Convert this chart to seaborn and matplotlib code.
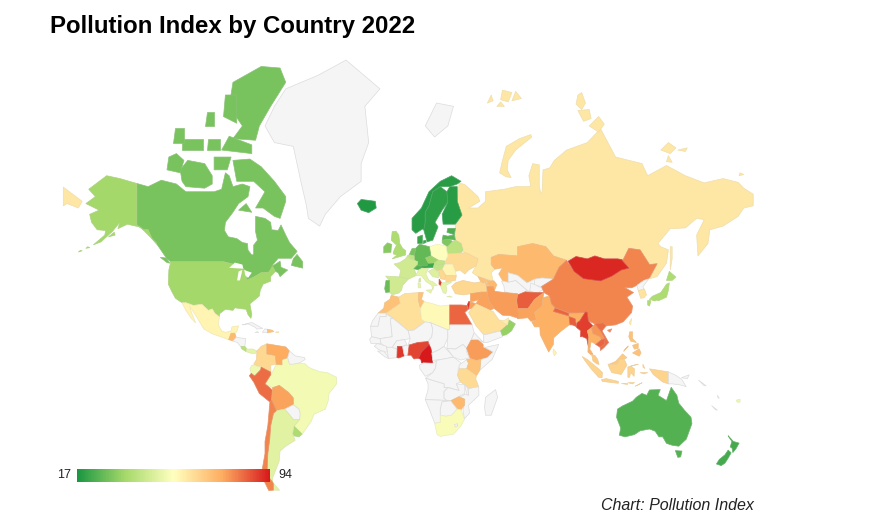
import numpy as np
import pandas as pd
import seaborn as sns
import matplotlib.pyplot as plt

# outlines are rough lon/lat rings, one list per country
canada = [[(-141,69.6),(-135,69),(-128,70.2),(-120,69.5),(-115,68),(-108,68),(-100,68),(-96,68.5),(-94,71.5),(-92,71),(-90,69),(-85,69.5),(-81,69),(-82,67),(-87,65.5),(-90,63.5),(-94,61),(-94.5,58.8),(-92.5,57),(-88,56.5),(-85,55.3),(-82.3,55),(-82,52.9),(-80,51.3),(-79,51.5),(-79,54.5),(-77,56),(-78,58.5),(-78,62.5),(-73,62),(-70,61),(-69.5,59),(-66,58.8),(-64.5,60.3),(-62,57.5),(-60,55.3),(-56,52.5),(-59,50.2),(-66,50.2),(-70,47),(-65,49.2),(-64.5,47),(-61,46),(-65,43.5),(-66,45),(-67.5,45.5),(-69,47.3),(-71,45.2),(-75,45),(-79,43.3),(-83,42),(-82.5,45),(-84.5,46.5),(-89,48),(-95,49),(-123,49),(-125,50),(-130,54.5),(-133,56.5),(-135,59),(-137.5,59),(-141,60.3)],
          [(-62,66),(-65,62),(-68,62.5),(-74,64.5),(-78,64.5),(-73,68),(-79,70),(-88,70),(-90,73.5),(-81,73.7),(-75,72.5),(-68,70),(-62,67)],
          [(-117,70),(-115,69),(-105,68.7),(-101,69.5),(-101,71),(-105,73),(-114,73.5),(-118,72)],
          [(-125,72),(-118,71.5),(-116,73.5),(-120,74.5),(-124,74)],
          [(-90,76.5),(-78,76.3),(-76,78),(-70,80),(-62,82),(-65,83),(-75,83.1),(-90,82),(-92,80),(-85,78)],
          [(-96,75),(-80,74.5),(-80,75.7),(-92,76.8)],
          [(-95,79),(-88,78.3),(-88,81),(-94,81)],
          [(-117,75),(-106,75),(-106,76.5),(-117,76.5)],
          [(-104,75),(-97,75),(-97,76.5),(-103,76.5)],
          [(-100,72),(-93,72),(-91,74),(-100,74)],
          [(-105,78),(-100,78),(-100,79.5),(-104,79.5)],
          [(-122,76),(-116,76),(-116,77.8),(-121,77.8)],
          [(-87,64),(-80,63.5),(-83,65.5)],
          [(-59,47.7),(-53,46.7),(-53,49),(-56,51.5),(-58,50)],
          [(-128.5,50.5),(-125,48.7),(-123.5,48.5),(-125.5,50.3)]]
usa = [[(-123,49),(-95,49),(-89,48),(-84.5,46.5),(-82.5,45),(-83,42),(-79,43.3),(-75,45),(-71,45.2),(-69,47.3),(-67.5,45.5),(-70,43.5),(-70,41.7),(-74,40.5),(-75.5,38),(-76,35.5),(-81,32),(-80,27),(-80.5,25.2),(-82,27),(-83,29.5),(-85,29.7),(-89,30.2),(-90,29),(-94,29.5),(-97,27.5),(-97.2,26),(-99.5,27.5),(-101,29.7),(-103,29),(-106.5,31.8),(-111,31.3),(-114.8,32.5),(-117,32.5),(-120.5,34.5),(-122.5,37.5),(-124.3,40.5),(-124,46)],
       [(-141,69.6),(-141,60.3),(-137.5,59),(-135,59),(-133,56.5),(-130.5,55),(-134,57),(-139,59.7),(-146,60.5),(-151,59.3),(-150,61),(-154,58.5),(-160,55.5),(-164,54.6),(-158,57.5),(-157.5,58.8),(-162,59),(-165,61),(-166,63),(-161,64),(-168,65.5),(-163,67),(-166.5,68.5),(-157,71),(-150,70.5)],
       [(-168,53.5),(-166,53.7),(-167,54)],[(-172,52.3),(-170,52.7),(-171,52.8)],[(-156,57),(-152.5,57.5),(-153,58.3)]]
greenland = [[(-73,78),(-68,76),(-58,75.5),(-54,70),(-51,65),(-50,62),(-44,60),(-41,63),(-33,67),(-22,70),(-22,73),(-18,76),(-20,80),(-12,81.5),(-30,83.5),(-45,82.5),(-62,81.5),(-68,80)]]
svalbard = [[(12,78),(17,76.7),(24,78),(27,80),(18,80.3)]]
russia = [[(28,60),(28,56),(31,53),(35,51),(40,50),(39,47.5),(37,45),(40,43.5),(48,41.8),(47,45),(49,46.3),(47,48),(47,50.5),(51,51.5),(61,51),(61,54),(69,55),(76,54),(80,51),(87,49.5),(92,50.8),(98,50),(102,51),(107,50),(114,50),(117,49.7),(120,53.5),(126,53),(131,48),(135,48.3),(133,45),(131,42.7),(135,43.5),(140,48.5),(141,53),(137,54),(135.5,55),(142,59.3),(150,59.5),(156,62),(160,61.7),(156,57.5),(156.7,51),(162,55),(163,59),(170,60),(178,62.5),(181,64.5),(186,65),(186,67.5),(181,68.7),(178,69.8),(170,70.5),(160,69.7),(150,71),(140,72.7),(130,71),(127,73),(113,74),(105,77.7),(98,76),(87,75),(80.5,73.5),(78,72.3),(74.5,72),(74,68),(73.5,67.5),(72.5,69),(72.5,72.8),(69,73),(67,71),(68,69),(60,69),(54,68.5),(44,68),(44,66),(40,64.5),(35,64.5),(41,66),(40,67),(33,69.4),(30,69.7),(29,66),(30,62)],
          [(-180,68.9),(-175,67.5),(-170,66),(-172,64.5),(-178,65.5),(-180,65)],
          [(51.5,71.5),(55,70.8),(57.5,70.7),(55.5,72),(56,73.5),(60,75),(68.5,76.7),(68,77),(62,76.5),(55,75.5),(53,73.5)],
          [(45,80.3),(48,80.5),(47,81)],[(52,80.6),(56,80.4),(58,81.2),(53,81.4)],[(58,80.5),(63,80.7),(60,81.3)],[(50,80),(54,80),(52,80.4)],
          [(92,80.2),(95,79.7),(97,80.3),(95,81.2),(93,81)],[(93,79.6),(99,79.7),(100,78.8),(96,78.5)],[(99,78),(104,79),(107,78.2),(104,77.3)],
          [(137,75),(142,74.5),(145,75.3),(141,76)],[(146,75),(150,74.8),(151,75.3)],[(140,73.3),(143,73.2),(141,74.2)],
          [(178.5,71),(181,71.2),(179,71.5)],
          [(142,46),(143,50),(143,54),(142,54),(142,48)]]
iceland = [[(-24,65.5),(-22,64),(-18,63.4),(-14,64.5),(-14.5,66),(-18,66.2),(-22,66.4)]]
norway = [[(5,59),(7,58),(10.5,59.2),(11.5,59),(12,61),(12,63.5),(14,65),(16,68),(20,69),(25,69),(29,69.5),(31,70),(26,71),(20,70),(14,68),(10,64.5),(5,62)]]
sweden = [[(11.2,59),(13,55.5),(16,56),(18.8,59.8),(17.2,61),(21,64),(24,65.8),(23.5,68),(20,69),(16,68),(14,65),(12,63.5),(12,61)]]
finland = [[(21.5,60.5),(28,60.5),(31.5,62.8),(29,66),(29,69),(25,69),(23.5,68),(24,65.8),(21,63)]]
denmark = [[(8,55),(8,57),(10.5,57.5),(10.5,55)],[(11,55),(12.5,55.3),(12.3,56),(11,55.8)]]
estonia = [[(23.5,58.3),(24,59.4),(28,59.4),(27.5,57.6)]]
latvia = [[(21,56),(21.5,57.5),(24,57.2),(27.5,57.6),(28,56),(25,56.3)]]
lithuania = [[(21,56),(25,56.3),(26.5,55.5),(24,54),(23,54.2),(21,55.2)]]
belarus = [[(23.5,52),(23,54.2),(24,54),(26.5,55.5),(28,56),(31,55),(32,53),(31,52),(24,51.7)]]
ukraine = [[(24,51.7),(31,52),(34,52),(40,50),(39,47.5),(35,46),(33,44.5),(30.5,46),(28,45.5),(26.5,48.2),(22.5,48.2)]]
poland = [[(14.2,54),(18.5,54.8),(23,54.2),(24,51),(22.5,49.2),(19,49.4),(15,51)]]
germany = [[(6.1,51),(7,53.5),(9,54.8),(14.2,54),(15,51),(12.2,50.3),(13.7,48.5),(13,47.5),(7.6,47.6),(8,49),(6.2,49.5)]]
netherlands = [[(3.5,51.4),(6.1,51),(7,53.5),(5,53.4)]]
belgium = [[(2.6,51),(3.5,51.4),(6.1,51),(6.2,49.5),(4,50)]]
france = [[(2.6,51),(4,50),(6.2,49.5),(8,49),(7.6,47.6),(6,46.5),(7.5,44),(3,42.5),(-1.7,43.4),(-1,46),(-4.5,48.2),(-1.5,48.7),(1.5,50)],[(8.6,41.5),(9.5,41.5),(9.4,43),(8.7,42.5)]]
switzerland = [[(6,46.5),(7.6,47.6),(9.5,47.5),(10.4,46.7),(8.5,46)]]
austria = [[(9.5,47.5),(13,47.5),(13.7,48.5),(17,48.6),(16.3,46.9),(10.4,46.7)]]
czechia = [[(12.2,50.3),(15,51),(18.8,49.6),(17,48.6),(13.7,48.5)]]
slovakia = [[(17,48.6),(18.8,49.6),(22.5,49.2),(22.2,48.2),(18.8,47.9)]]
hungary = [[(16.3,46.9),(17,48.6),(18.8,47.9),(22.2,48.2),(21,46.2),(18,45.8)]]
italy = [[(7,44),(8.5,46),(10.4,46.7),(13.7,46.5),(12.3,44.5),(14,42),(16,41.5),(18.4,40),(16.7,40),(16,38),(15.5,40),(12.5,41.5),(10,43.8)],
         [(12.5,38),(15.5,38.2),(15,36.7)],[(8.3,39),(9.7,39),(9.3,41),(8.2,41)]]
spain = [[(-9,43.7),(-1.7,43.4),(3,42.5),(0,40),(-0.5,38),(-2,36.8),(-5.5,36),(-7,37.2),(-7,42)]]
portugal = [[(-9,37),(-7,37.2),(-7,42),(-8.8,42),(-9.5,38.7)]]
uk = [[(-5.5,50),(1.5,51.3),(1.7,52.7),(0,53.5),(-1.5,55),(-2,57.5),(-3.5,58.6),(-5.5,58.5),(-6,56),(-3.2,54.5),(-4.5,53),(-5,51.7),(-3,51.3)]]
ireland = [[(-10,52),(-6.2,52.2),(-6,53.8),(-5.7,54.7),(-8,55.2),(-10,54)]]
romania = [[(22.5,48),(26.5,48.2),(28,45.5),(28.5,43.8),(22.8,44),(21,46.2)]]
bulgaria = [[(22.8,44),(28.5,43.8),(28,42),(23,41.3)]]
serbia = [[(19,46),(21,46.2),(22.8,44),(22.5,42.3),(20,42.7)]]
croatia = [[(13.7,45.5),(16.3,46.5),(18,45.8),(19.3,45),(19,43),(16,43.5)]]
albania = [[(19.4,42.5),(20.7,41),(20.2,39.8),(19.3,40.5)]]
greece = [[(20.2,39.6),(20.7,41),(26,41.3),(23,40),(23.5,38),(22.8,36.5),(21.5,37)],[(23.5,35.2),(26.3,35),(25,35.5)]]
turkey = [[(26,39.5),(28,41),(32,42),(38,41),(42,41.5),(44.5,39.7),(44.7,37.2),(36.5,36.5),(32,36),(28,36.5)]]
georgia = [[(40,43.5),(46.5,41.8),(43,41),(41.5,41.5)]]
azerbaijan = [[(45,41.2),(46.5,41.8),(48.5,41.8),(50,40.3),(49,38.4),(46,39)]]
armenia = [[(43.5,41),(45,41),(46.5,39),(44.8,39.7)]]
kazakhstan = [[(47,48),(49,46.3),(53,46.8),(51,44.5),(53,42),(56,41.3),(56,45),(61,44),(66,41),(70,42.5),(74,43),(80,42.5),(83,47),(87,49.5),(80,51),(76,54),(69,55),(61,54),(61,51),(51,51.5),(47,50.5)]]
turkmenistan = [[(52.5,41.7),(56,41.3),(60,42),(66,38),(62,35.3),(54,37.4),(53.8,39.5)]]
uzbekistan = [[(56,41.3),(56,45),(61,44),(66,41),(70,42.5),(71,40.5),(67,37.5),(66,38),(60,42)]]
kyrgyzstan = [[(70,42.5),(74,43),(80,42.5),(73.5,39.5),(70,40)]]
tajikistan = [[(67.5,37.5),(68,41),(71,40),(74.9,38.4),(71.5,36.8)]]
afghanistan = [[(60.5,33.5),(61,36),(65,37.3),(71.5,37),(74.9,37),(70,34),(66.5,29.8),(61,29.8)]]
pakistan = [[(61,25),(66.5,25.5),(68,23.8),(71,24.5),(70,28),(74,31),(74.5,34.8),(74.9,37),(70,34),(66.5,29.8),(61,29.8)]]
iran = [[(44.7,39.5),(48,39.5),(49,37.5),(54,37),(61,36.5),(60.5,33.5),(61,29.8),(61.5,25.2),(57,26.5),(53,26.7),(48.5,30),(46,33),(45,36)]]
iraq = [[(39,32),(42,37.2),(44.7,37.2),(45,36),(46,33),(48.5,30),(46.5,29)]]
syria = [[(36,33),(36,36.5),(42,37.2),(41,34.4),(38.8,33.4)]]
jordan = [[(35,29.5),(36,33),(39,32),(37,30)]]
saudi = [[(35,28),(37,30),(39,32),(46.5,29),(48,28.5),(51,24.6),(55.7,22),(52,19),(45,17.3),(43,17),(39,21.5)]]
yemen = [[(43,13),(43,17),(45,17.3),(52,19),(53,16),(45,13)]]
oman = [[(52,19),(55.7,22),(56.3,24.5),(59.8,22.5),(57.8,19),(55,17),(53,16.6)]]
uae = [[(51.5,24.3),(55.7,22),(56.3,25.5),(54,24.2)]]
israel = [[(34.3,31.3),(35,29.7),(35.6,33),(35,33)]]
india = [[(68.5,23.5),(71,24.5),(70,28),(74,31),(74.5,34.8),(78,35.5),(79,32),(81,30.2),(80,28.5),(88,26.3),(88.2,27.8),(92,27.8),(97,28.3),(94,24),(92.5,23),(91.5,24.5),(89,25),(88.5,22),(87,21),(84,18.8),(80.2,15.5),(80,12),(77.5,8),(76,11),(73,17),(72.8,21),(70,21)]]
nepal = [[(81,30.2),(88.2,27.8),(88,26.4),(80,28.5)]]
bangladesh = [[(88.3,26),(91.5,25),(92.5,21),(90,22),(88.8,22)]]
srilanka = [[(80,9.6),(81.7,7.5),(80.5,6),(79.8,8)]]
china = [[(73.7,39.5),(80,42.5),(83,47),(87,49.5),(91,45.5),(96,42.7),(105,41.8),(111,43.7),(116,46),(120,46.7),(116,49.8),(117,49.7),(120,53.5),(126,53),(131,48),(135,48.3),(131,43),(128,42),(124.3,40),(121.5,39),(118,39),(122.5,37),(119,35),(122,31),(121.5,28),(117,23.5),(113,22),(108,21.5),(106.5,23),(102,22.5),(98.5,24),(98,28),(92,27.8),(88.2,27.8),(81,30.2),(79,32),(78,35.5),(75,37)],[(108.7,19.3),(111,20),(110,18.3)]]
mongolia = [[(87.8,49.2),(92,50.8),(98,50),(102,51),(107,50),(114,50),(116,49.8),(120,46.7),(116,46),(111,43.7),(105,41.8),(96,42.7),(91,45.5)]]
nkorea = [[(124.3,40),(128,42),(130.5,42.5),(127.5,39.5),(128,38.3),(125,37.8)]]
skorea = [[(125,37.8),(128.3,38.5),(129.4,36),(128,34.7),(126.3,34.5)]]
japan = [[(130.9,34),(136,33.5),(140,35),(141,38),(141.5,41),(140,40.5),(137,37),(132.5,35.4)],[(140,42),(141.5,45.5),(145,43.3),(143,42)],[(130,33.5),(131.8,33.5),(131,31),(130,31.5)],[(132.5,33.5),(134.5,34.2),(134,33.3)]]
myanmar = [[(92.3,20.7),(92.5,23),(94,24),(97,28.3),(98,28),(98.5,24),(101,21.5),(98,19),(98.8,16),(98.7,10),(97.7,15),(95.5,16),(94.3,16),(94.5,19)]]
thailand = [[(98,19),(100.3,20.4),(101,17.6),(104.8,16),(105.5,14.5),(102.5,12),(101,13),(100,13.4),(99.3,9.5),(101,6.8),(100,6.5),(98.3,8),(98.8,16)]]
laos = [[(100.3,20.4),(102,22.5),(105,19),(107.5,15),(105.5,14.5),(104.8,16),(101,17.6)]]
vietnam = [[(102,22.5),(106.5,23),(108,21.5),(105.8,19),(109.3,13),(106.8,10.3),(105,8.8),(104.8,10.5),(107,12),(107.5,15),(105,19)]]
cambodia = [[(102.5,12),(105.5,14.5),(107.5,15),(107,12),(104.8,10.5)]]
malaysia = [[(100.3,6.5),(102,6.2),(103.5,4),(104.2,1.4),(103,1.7),(101,3.3)],[(109.7,1.5),(113,3),(116.7,7),(119,5),(117.5,4.2),(115,4),(114,1.5)]]
indonesia = [[(95.3,5.6),(98,4),(104,-1),(106,-3),(105.8,-5.8),(104,-5.5),(100,-1),(97,3)],[(105.5,-6.8),(108,-6.2),(114.5,-7.7),(114.4,-8.7),(106,-7.7)],
             [(109,1.5),(114,1.5),(115,4),(117.5,4.2),(119,1),(116,-4),(111,-3),(109.7,-0.5)],[(119.5,-5.5),(119.5,0),(125,1.5),(121,0.5),(123,-1),(122.8,-5),(121,-3),(120.4,-5.5)],
             [(131,-1),(141,-2.6),(141,-9),(138,-8),(133,-4)],[(116,-8.4),(119,-8.4),(119,-9)],[(119.5,-8.4),(123,-8.3),(122,-9)],[(123.5,-10.2),(127,-8.4),(125,-9.5)],[(127.5,1.5),(128.5,-0.8),(127.5,0)],[(126,-3),(130,-3),(128,-3.7)]]
png = [[(141,-2.6),(145,-4.5),(148,-6.5),(150.5,-10.5),(147,-9.5),(143,-9),(141,-9)],[(148,-5.7),(152,-4.2),(151,-6.3)]]
philippines = [[(120.5,18.5),(122,18.5),(122,15),(124,13),(121,13.7),(120,16)],[(122,7.5),(125.5,9.7),(126.5,7.5),(125.5,5.8),(124,6.5)],[(122,11.5),(125,12.5),(125,10),(123,9.5)],[(117.3,8.4),(119.5,10.8),(119.7,11.2),(118,9.5)]]
taiwan = [[(120.2,23),(121.5,25.2),(121,22)]]
australia = [[(114,-22),(116.5,-20.5),(122,-18),(124,-16),(127,-14),(129.5,-15),(131,-12.2),(136.7,-12),(135.5,-15),(140,-17.7),(141.7,-13),(142.5,-10.8),(145.5,-15),(146.5,-19),(149.5,-22.5),(153,-26),(153.5,-29),(150.5,-36),(146.5,-39),(143,-38.6),(140,-37.8),(138,-35),(136,-35),(134,-32.5),(131,-31.5),(126,-32.3),(123,-34),(118,-35),(115,-34.3),(115.7,-31),(113.5,-26)],
             [(144.7,-40.8),(148.2,-41),(147.5,-43.3),(146,-43.5)]]
newzealand = [[(172.7,-34.5),(175.5,-37),(178.5,-37.7),(176.9,-40),(175.2,-41.6),(174.8,-39.8),(173.8,-39.3),(174.7,-37),(173,-35)],[(172.7,-40.6),(174.3,-41.7),(172.7,-43.8),(171,-45.7),(169,-46.6),(166.5,-46),(168,-44.3),(171,-42.5)]]
fiji = [[(177,-17.5),(179,-17),(179,-18.5),(177.5,-18.5)]]
caledonia = [[(164,-20.3),(167,-22.5),(166,-22.3)],[(157,-7),(161,-10),(160,-10)],[(167,-15),(168,-16.5),(167.3,-16.3)]]
morocco = [[(-6,35.8),(-2,35),(-1.2,32.2),(-5,30),(-8.7,27.7),(-13,27.7),(-10,30),(-9.5,32.5),(-6.8,34)]]
wsahara = [[(-13,27.7),(-8.7,27.7),(-8.7,26),(-12,26),(-13,21.3),(-17,21.3),(-16,24)]]
algeria = [[(-2,35),(1,36.5),(8.6,37),(8.3,34),(9.5,30),(10,24.8),(12,23.5),(6,19.4),(3,19),(-4.8,25),(-8.7,27.7),(-5,30),(-1.2,32.2)]]
tunisia = [[(8.6,37),(11,37),(10,34),(11.5,33),(9.5,30),(8.3,34)]]
libya = [[(11.5,33),(15,32.3),(20,31),(25,31.5),(25,20),(24,19.5),(15,23),(12,23.5),(10,24.8),(9.5,30)]]
egypt = [[(25,31.5),(31,31.5),(34.3,31.3),(34.8,29.5),(33,28),(36.8,22),(25,22)]]
mauritania = [[(-17,21.3),(-13,21.3),(-12,26),(-8.7,26),(-8.7,27.3),(-4.8,25),(-6.5,25),(-5.5,16),(-12,15),(-16.5,16)]]
mali = [[(-12,15),(-5.5,16),(-6.5,25),(-4.8,25),(3,19),(4,15),(1,14.5),(-3,14),(-5.5,10.5),(-8.5,10.5),(-11.5,12.5)]]
niger = [[(3,11.8),(4,15),(3,19),(6,19.4),(12,23.5),(15,23),(16,20),(15.5,16),(13.5,13.5),(8,13),(3.5,11.7)]]
chad = [[(15,23),(24,19.5),(24,15.5),(22,11),(19,9),(15.5,7.5),(14,12.8),(13.5,13.5),(15.5,16),(16,20)]]
sudan = [[(25,22),(36.8,22),(38,18),(36.5,14.5),(34,10),(32,12),(28,9.5),(23.5,10),(24,15.5),(24,19.5),(25,20)]]
senegal = [[(-17.5,14.7),(-16.5,16),(-12,15),(-11.5,12.5),(-16.7,12.4)]]
guinea = [[(-15,11),(-13.5,12.5),(-8.5,11),(-8,8),(-10,8),(-13,9.5)]]
liberia = [[(-13.3,8.5),(-10,8.5),(-8,6),(-7.5,4.5),(-9.5,5.5)]]
ivorycoast = [[(-8.5,10.5),(-5.5,10.5),(-2.8,9.5),(-3,5),(-7.5,4.5),(-8,7.8)]]
burkina = [[(-5.5,10.5),(-3,14),(1,14.5),(2.3,12),(0,11),(-2.8,9.5)]]
ghana = [[(-2.8,11),(0,11),(0.5,8),(1,6),(-2,4.8),(-3,5)]]
benin = [[(0,11),(3.5,11.7),(2.8,6.3),(1,6),(0.5,8)]]
nigeria = [[(2.8,6.3),(3.5,11.7),(8,13),(13.5,13.5),(14,12),(10,8),(8.5,4.7),(6,4.3),(4.5,6.3)]]
cameroon = [[(8.5,4.7),(10,8),(14,12),(15,10),(15.5,7.5),(16,2),(10,2.2),(9.7,4)]]
car = [[(15.5,7.5),(19,9),(22,11),(27,5.3),(22,4.3),(16,3.5)]]
gabon = [[(9,1),(11,2.2),(16,2),(18,3.5),(17.5,-0.5),(16,-3),(12,-5),(9.2,-1)]]
drc = [[(12.2,-6),(16,-3),(17.5,-0.5),(18,3.5),(22,4.3),(27,5.3),(31,2.2),(29.5,-1),(29.2,-4.5),(30.7,-8),(28.5,-9),(30,-12.5),(28,-12),(25,-11),(22,-11),(22,-9),(17,-7.5)]]
ssudan = [[(23.5,10),(28,9.5),(32,12),(34,10),(34,8),(35.5,5),(31,3.7),(27,5.3)]]
uganda = [[(30,-1),(30,1),(34,4),(35,2),(34,-1)]]
ethiopia = [[(36.5,14.5),(40,14.5),(42.7,12),(42.8,10.8),(48,8),(45,5),(41.5,4),(39,3.5),(36,4.5),(35,7),(34,10)]]
eritrea = [[(36.5,14.5),(38,18),(43,13),(40,14.5)]]
somalia = [[(41,-1.7),(41.5,4),(45,5),(48,8),(42.8,10.8),(44,10.5),(51,12),(47.5,4),(44,1)]]
kenya = [[(34,-1),(35,2),(34,4),(36,4.5),(39,3.5),(41.5,4),(41,-1.7),(39.2,-4.7)]]
tanzania = [[(30,-1),(34,-1),(39.2,-4.7),(38.8,-6.5),(40.4,-10.5),(35,-11.5),(33,-9.5),(30.7,-8),(29.2,-4.5)]]
angola = [[(12.2,-6),(17,-7.5),(22,-9),(22,-11),(24,-11),(22,-13),(22,-16.5),(23.4,-17.6),(12,-17.2),(13.5,-12),(13.5,-9)]]
zambia = [[(22,-13),(24,-11),(28,-12),(30,-12.5),(28.5,-9),(33,-9.5),(33,-14),(30,-15.5),(25.5,-17.8),(23.4,-17.6),(22,-16.5)]]
malawi = [[(33,-9.5),(34.5,-11),(35,-15),(34,-14.5)]]
mozambique = [[(35,-11.5),(40.4,-10.5),(40.5,-15),(35,-20),(35.5,-24),(32.8,-26.7),(32,-22.5),(33,-19),(30.4,-16),(33,-14.5),(35,-15)]]
zimbabwe = [[(25.5,-17.8),(30,-15.7),(33,-17),(32.8,-20),(31,-22.3),(29,-22),(26,-19)]]
namibia = [[(12,-17.2),(23.4,-17.6),(25,-17.8),(21,-18.3),(20,-22),(20,-28.5),(17,-28.8),(14.5,-22.8)]]
botswana = [[(21,-18.3),(25.5,-17.8),(29,-22),(26,-25),(23,-25.5),(20,-25),(20,-22)]]
southafrica = [[(17,-28.8),(20,-28.5),(20,-25),(23,-25.5),(26,-25),(29,-22),(31,-22.3),(32,-25),(32.8,-27),(31,-30),(27,-33.8),(20,-34.8),(18.3,-34)]]
lesotho = [[(27.5,-29.5),(29,-29),(29.3,-30),(28,-30.6)]]
madagascar = [[(44,-16),(49.3,-12),(50.4,-16),(47,-25),(44,-25),(43.5,-21)]]
mexico = [[(-117,32.5),(-114.8,32.5),(-111,31.3),(-106.5,31.8),(-103,29),(-101,29.7),(-99.5,27.5),(-97.2,26),(-97.8,22),(-96,19),(-94,18.2),(-91,19),(-90.5,21),(-87,21.5),(-88,18.5),(-89,17.8),(-91,17),(-92.3,14.5),(-96,15.8),(-101,17.5),(-105.5,20),(-109,25.5),(-113,31),(-112,28),(-109.8,23),(-112,25),(-115,29)]]
guatemala = [[(-92.3,14.5),(-91,17.8),(-89,17.8),(-88.3,15.7),(-90,13.8)]]
honduras = [[(-90,13.8),(-88.3,15.7),(-83.2,15),(-83.7,11),(-86,11),(-87.7,13)]]
costarica = [[(-85.8,10.9),(-83.7,11),(-82.6,9.5),(-83,8.2),(-85.5,9.8)]]
panama = [[(-83,8.2),(-82.6,9.5),(-79.5,9.6),(-77.3,8.5),(-78,7.3),(-80.5,7.3)]]
cuba = [[(-85,22),(-80,23.2),(-74.2,20.2),(-77.5,19.9),(-78,20.7),(-82,22.5)],[(-78.3,18.2),(-76.3,18.2),(-77,18.6)],[(-74.4,18.3),(-73,20),(-71.7,19.8),(-71.7,18)]]
dominican = [[(-71.7,19.8),(-69,19.3),(-68.4,18.6),(-71.7,18)]]
puertorico = [[(-67.2,18),(-65.7,18.2),(-65.7,18.5),(-67.2,18.5)]]
colombia = [[(-77.3,8.5),(-75,11),(-72,12.3),(-72,7),(-67.5,6.2),(-67,1.5),(-70,1),(-69.8,-4.2),(-74,-1),(-79,1.5),(-77.5,4)]]
venezuela = [[(-72,12.3),(-70,12),(-62,10.7),(-60,8.5),(-61,5),(-64,4),(-64,1.2),(-67,1.5),(-67.5,6.2),(-72,7)]]
guianas = [[(-60,8.5),(-57,6),(-52,5),(-51.7,4),(-54.5,2.3),(-58,1.5),(-60,1.5),(-61,5)]]
ecuador = [[(-80,1),(-75.3,0),(-75.3,-1.5),(-78.5,-4.8),(-80.3,-3.4),(-81,-1)]]
peru = [[(-81.3,-4.7),(-80.3,-3.4),(-78.5,-4.8),(-75.3,-1.5),(-75,-0.1),(-70,-2.7),(-70,-4.2),(-73,-9),(-70.5,-11),(-69,-12.5),(-69.5,-17.5),(-70.4,-18.4),(-76,-14),(-79,-8)]]
bolivia = [[(-69,-11),(-65.4,-9.8),(-60.5,-13.5),(-58,-16.3),(-58,-19.8),(-62.5,-22),(-67,-22.8),(-69.5,-17.5)]]
paraguay = [[(-58,-19.8),(-62.5,-22),(-58,-27),(-54.6,-27),(-54.4,-24),(-55,-22)]]
uruguay = [[(-58.4,-33.5),(-57.6,-30.2),(-53.3,-33.8),(-55,-35),(-58,-34.5)]]
brazil = [[(-60,5),(-57,2),(-52,2),(-50,0),(-48,-1),(-44,-2.5),(-40,-3),(-35,-5.5),(-35,-9),(-39,-14),(-39.5,-18),(-41,-22),(-47,-24.5),(-48.5,-28),(-53.3,-33.8),(-57.6,-30.2),(-54.6,-27),(-54.4,-24),(-55,-22),(-58,-19.8),(-58,-16.3),(-60.5,-13.5),(-65.4,-9.8),(-69,-11),(-73,-9),(-70,-4.2),(-69.8,-4.2),(-67,1.5),(-64,1.2),(-64,4)]]
argentina = [[(-67,-22.8),(-62.5,-22),(-58,-27),(-54.6,-27),(-57.6,-30.2),(-58.4,-33.5),(-57,-36.5),(-62,-39),(-65,-41),(-65.5,-45),(-69,-51),(-69,-52.3),(-72,-50),(-71.5,-42),(-70.5,-36),(-70,-30),(-68.5,-24)],[(-68.6,-52.7),(-65.3,-54.9),(-68.6,-54.9)]]
chile = [[(-70.4,-18.4),(-69.5,-17.5),(-67,-22.8),(-68.5,-24),(-70,-30),(-70.5,-36),(-71.5,-42),(-72,-50),(-69,-52.3),(-68.6,-52.7),(-68.6,-54.9),(-71,-55),(-75,-50),(-73,-42),(-73,-37),(-71.5,-30)]]

# lakes sit over the land in white
lakes = [[(-92,46.8),(-84.5,46.5),(-85,48),(-89,48.7)],[(-87.8,42),(-86.3,42),(-85,46),(-87,45.5)],[(-84,46),(-80,45),(-82,43),(-83.5,44)]]

# None means no data for the year (light grey on the map)
names = ["Brazil","Greenland","Svalbard","Canada","USA","Russia","Iceland","Norway","Sweden","Finland","Denmark","Estonia","Latvia","Lithuania","Belarus","Ukraine","Poland","Germany","Netherlands","Belgium","France","Switzerland","Austria","Czechia","Slovakia","Hungary","Italy","Spain","Portugal","UK","Ireland","Romania","Bulgaria","Serbia","Croatia","Albania","Greece","Turkey","Georgia","Azerbaijan","Armenia","Kazakhstan","Turkmenistan","Uzbekistan","Kyrgyzstan","Tajikistan","Afghanistan","Pakistan","Iran","Iraq","Syria","Jordan","Saudi Arabia","Yemen","Oman","UAE","Israel","India","Nepal","Bangladesh","Sri Lanka","China","Mongolia","North Korea","South Korea","Japan","Myanmar","Thailand","Laos","Vietnam","Cambodia","Malaysia","Indonesia","Papua New Guinea","Philippines","Taiwan","Australia","New Zealand","Fiji","New Caledonia","Morocco","Western Sahara","Algeria","Tunisia","Libya","Egypt","Mauritania","Mali","Niger","Chad","Sudan","Senegal","Guinea","Liberia","Ivory Coast","Burkina Faso","Ghana","Benin","Nigeria","Cameroon","CAR","Gabon","DR Congo","South Sudan","Uganda","Ethiopia","Eritrea","Somalia","Kenya","Tanzania","Angola","Zambia","Malawi","Mozambique","Zimbabwe","Namibia","Botswana","South Africa","Lesotho","Madagascar","Mexico","Guatemala","Honduras","Costa Rica","Panama","Cuba","Dominican Rep.","Puerto Rico","Colombia","Venezuela","Guianas","Ecuador","Peru","Bolivia","Paraguay","Uruguay","Argentina","Chile"]
values = [53,None,None,30,36,61,18,19,20,19,21,24,26,31,41,64,55,27,30,42,45,25,22,35,42,42,50,45,28,38,32,58,65,65,48,90,50,65,70,72,70,72,None,None,None,None,85,76,77,76,76,76,63,None,34,60,92,74,84,85,58,80,92,None,62,38,89,74,78,83,84,68,66,None,70,60,25,23,52,None,70,None,63,70,57,84,None,None,None,None,None,None,None,None,None,None,90,None,88,94,None,None,None,None,None,77,None,None,70,64,None,None,None,None,72,None,None,54,None,None,58,72,None,40,50,None,70,60,65,75,None,52,83,76,None,38,49,80]
outlines = [brazil,greenland,svalbard,canada,usa,russia,iceland,norway,sweden,finland,denmark,estonia,latvia,lithuania,belarus,ukraine,poland,germany,netherlands,belgium,france,switzerland,austria,czechia,slovakia,hungary,italy,spain,portugal,uk,ireland,romania,bulgaria,serbia,croatia,albania,greece,turkey,georgia,azerbaijan,armenia,kazakhstan,turkmenistan,uzbekistan,kyrgyzstan,tajikistan,afghanistan,pakistan,iran,iraq,syria,jordan,saudi,yemen,oman,uae,israel,india,nepal,bangladesh,srilanka,china,mongolia,nkorea,skorea,japan,myanmar,thailand,laos,vietnam,cambodia,malaysia,indonesia,png,philippines,taiwan,australia,newzealand,fiji,caledonia,morocco,wsahara,algeria,tunisia,libya,egypt,mauritania,mali,niger,chad,sudan,senegal,guinea,liberia,ivorycoast,burkina,ghana,benin,nigeria,cameroon,car,gabon,drc,ssudan,uganda,ethiopia,eritrea,somalia,kenya,tanzania,angola,zambia,malawi,mozambique,zimbabwe,namibia,botswana,southafrica,lesotho,madagascar,mexico,guatemala,honduras,costarica,panama,cuba,dominican,puertorico,colombia,venezuela,guianas,ecuador,peru,bolivia,paraguay,uruguay,argentina,chile]

scale_stops = ["#1a9641", "#a6d96a", "#ffffbf", "#fdae61", "#d7191c"]
scale_min, scale_max = 17, 94


def project(ring):
    # mercator, fitted to the picture in pixels
    lon, lat = np.array(ring, dtype=float).T
    x = 402.6 + 1.885 * lon
    y = 367 - 107 * np.log(np.tan(np.pi / 4 + np.radians(lat) / 2))
    return x, y


def mix(c1, c2, t):
    return tuple((1 - t) * a + t * b for a, b in zip(c1[:3], c2))


sns.set_style("white")
plt.rcParams["font.family"] = ["Liberation Sans", "DejaVu Sans"]

cmap = sns.blend_palette(scale_stops, as_cmap=True)
table = pd.DataFrame({"country": names, "index": values, "outline": outlines})

fig = plt.figure(figsize=(8.71, 5.24), dpi=100)
ax = fig.add_axes([0, 0, 1, 1])
ax.set_xlim(0, 871)
ax.set_ylim(524, 0)
ax.axis("off")

for row in table.itertuples():
    if pd.isna(row.index):
        face, edge = "#f5f5f5", "#dcdcdc"
    else:
        rgba = cmap((row.index - scale_min) / (scale_max - scale_min))
        face, edge = rgba, mix(rgba, (0.75, 0.75, 0.75), 0.25)
    for ring in row.outline:
        x, y = project(ring)
        ax.fill(x, y, facecolor=face, edgecolor=edge, linewidth=0.5, joinstyle="round")

for ring in lakes:
    x, y = project(ring)
    ax.fill(x, y, facecolor="white", edgecolor="none")

# legend gradient
cax = fig.add_axes([77 / 871, 1 - 482 / 524, 193 / 871, 13 / 524])
sns.heatmap(np.linspace(scale_min, scale_max, 256).reshape(1, -1), ax=cax, cmap=cmap,
            vmin=scale_min, vmax=scale_max, cbar=False, xticklabels=False, yticklabels=False)

fig.text(57 / 871, 1 - 475.5 / 524, "17", fontsize=9, color="#222222", va="center")
fig.text(278 / 871, 1 - 475.5 / 524, "94", fontsize=9, color="#222222", va="center")
fig.text(50 / 871, 1 - 26 / 524, "Pollution Index by Country 2022", fontsize=17.3,
         fontweight="bold", color="black", va="center")
fig.text(754 / 871, 1 - 505 / 524, "Chart: Pollution Index", fontsize=11.5, style="italic",
         color="#222222", ha="right", va="center")

fig.savefig("out.png", dpi=100)
